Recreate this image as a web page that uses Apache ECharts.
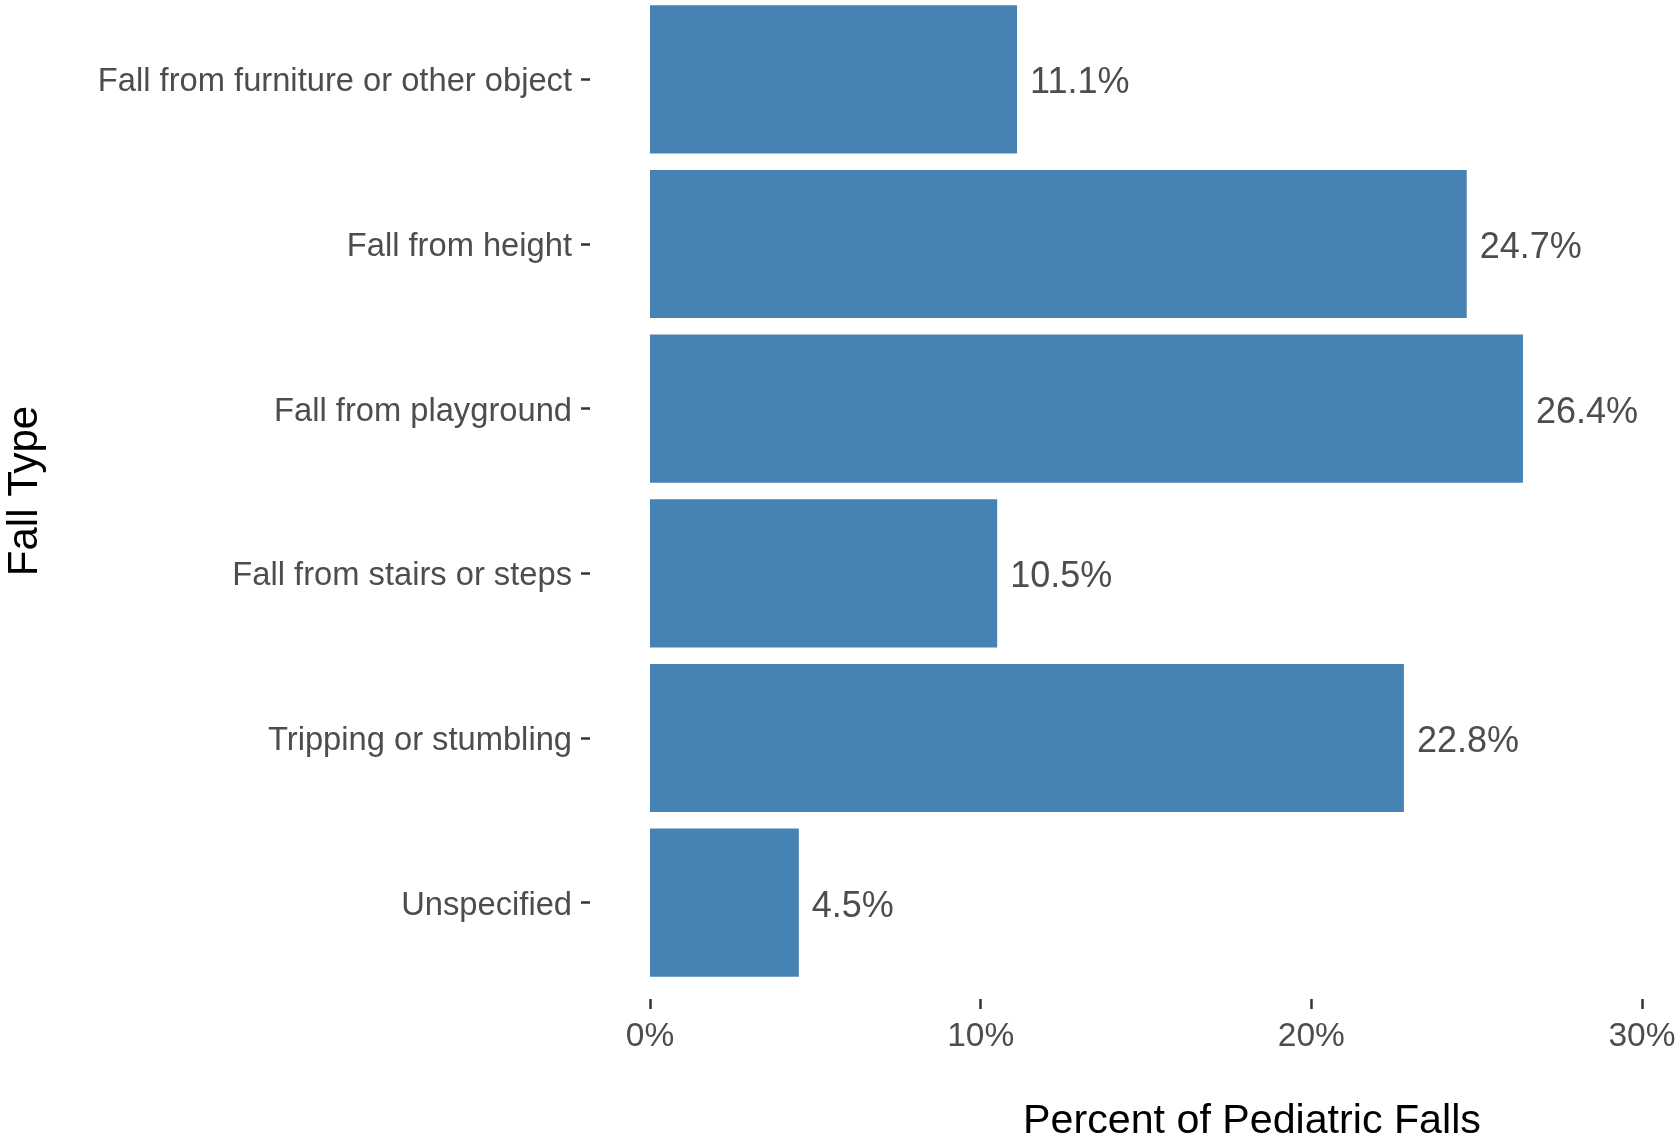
<!DOCTYPE html>
<html>
<head>
<meta charset="utf-8">
<script src="https://cdn.jsdelivr.net/npm/echarts@6/dist/echarts.min.js"></script>
<style>
html,body{margin:0;padding:0;background:#fff;}
#c{width:1678px;height:1139px;}
</style>
</head>
<body>
<div id="c"></div>
<script>
const categories = ["Fall from furniture or other object","Fall from height","Fall from playground","Fall from stairs or steps","Tripping or stumbling","Unspecified"];
const values = [11.1, 24.7, 26.4, 10.5, 22.8, 4.5];
const xTicks = [0, 10, 20, 30];

const chart = echarts.init(document.getElementById('c'), null, {renderer:'canvas'});
const FONT = 'Liberation Sans, Arial, sans-serif';
const TOP = -3, H = 988;
chart.setOption({
  animation: false,
  backgroundColor: '#ffffff',
  grid: [
    {left: 650, right: 36, top: TOP, height: H, containLabel: false, outerBoundsMode: 'none'},
    {left: 590, width: 1, top: TOP, height: H, containLabel: false, outerBoundsMode: 'none'}
  ],
  xAxis: [{
    type: 'value', gridIndex: 0, min: xTicks[0], max: xTicks[xTicks.length-1], interval: 10,
    offset: 14,
    axisLine: {show: false},
    axisTick: {show: true, length: 10, lineStyle: {color: '#333333', width: 2.5}},
    splitLine: {show: false},
    axisLabel: {formatter: '{value}%', fontSize: 33.5, fontFamily: FONT, color: '#4d4d4d', margin: 21}
  }, {
    type: 'value', gridIndex: 1, show: false, min: 0, max: 1
  }],
  yAxis: [{
    type: 'category', gridIndex: 0, data: categories, inverse: true,
    axisLine: {show: false}, axisTick: {show: false}, axisLabel: {show: false}
  }, {
    type: 'category', gridIndex: 1, data: categories, inverse: true,
    axisLine: {show: false},
    axisTick: {show: true, length: 9, alignWithLabel: true, lineStyle: {color: '#333333', width: 2.5}},
    axisLabel: {fontSize: 32.7, fontFamily: FONT, color: '#4d4d4d', margin: 18, verticalAlign: 'top', lineHeight: 6}
  }],
  series: [{
    type: 'bar', xAxisIndex: 0, yAxisIndex: 0, data: values, barWidth: '90%',
    itemStyle: {color: '#4682B4'},
    label: {show: true, position: 'right', distance: 13, offset: [0, 4], fontSize: 36, fontFamily: FONT, color: '#4d4d4d',
      formatter: p => p.value.toFixed(1) + '%'}
  }],
  graphic: [
    {type: 'text', silent: true, x: 25, y: 491, rotation: Math.PI/2,
     style: {text: 'Fall Type', font: '42px ' + FONT, fill: '#000000', textAlign: 'center', textVerticalAlign: 'middle'}},
    {type: 'text', silent: true, x: 1252, y: 1122,
     style: {text: 'Percent of Pediatric Falls', font: '41.2px ' + FONT, fill: '#000000', textAlign: 'center', textVerticalAlign: 'middle'}}
  ]
});
</script>
</body>
</html>
